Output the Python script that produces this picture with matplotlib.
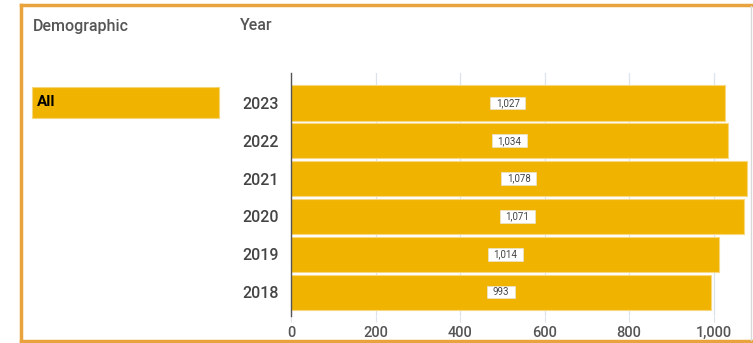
import matplotlib.pyplot as plt
from matplotlib.lines import Line2D
from matplotlib.patches import Rectangle
from matplotlib.ticker import FuncFormatter

plt.rcParams["font.family"] = ["Roboto", "DejaVu Sans"]

years = ["2018", "2019", "2020", "2021", "2022", "2023"]
counts = [993, 1014, 1071, 1078, 1034, 1027]
demographics = ["All"]
x_ticks = [0, 200, 400, 600, 800, 1000]

W, H = 753, 343
gold = "#F0B400"
frame_orange = "#E8A33D"
text_gray = "#555555"

fig = plt.figure(figsize=(W / 100, H / 100), dpi=100)

# background layer in pixel coordinates for the frame and the slicer panel
bg = fig.add_axes([0, 0, 1, 1])
bg.set_xlim(0, W)
bg.set_ylim(H, 0)
bg.axis("off")

bg.add_line(Line2D([21, 752], [5, 5], color=frame_orange, lw=2.5))
bg.add_line(Line2D([21, 21], [5, 341], color=frame_orange, lw=2.5))
bg.add_line(Line2D([21, 752], [341, 341], color=frame_orange, lw=2.5))
bg.add_line(Line2D([751, 751], [6, 340], color="#d8d8d8", lw=1))

bg.text(33, 26, "Demographic", fontsize=11.5, color=text_gray, fontweight="medium",
        ha="left", va="center")
bg.text(240, 26, "Year", fontsize=11.5, color=text_gray, fontweight="medium",
        ha="left", va="center")

for i, name in enumerate(demographics):
    top = 87 + i * 34
    bg.add_patch(Rectangle((32, top), 187, 31, facecolor=gold, edgecolor="#f5d57a", lw=0.8))
    bg.text(37, top + 15.5, name, fontsize=11, color="black", fontweight="semibold",
            ha="left", va="center")

# bar chart area
left_px, right_px = 291, 749.5
top_px, bottom_px = 73, 316
ax = fig.add_axes([left_px / W, 1 - bottom_px / H,
                   (right_px - left_px) / W, (bottom_px - top_px) / H])
ax.patch.set_alpha(0)

ypos = list(range(len(years)))
ax.barh(ypos, counts, height=0.93, color=gold, edgecolor="#f7d77f", linewidth=0.8, zorder=2)

ax.set_xlim(0, 1085)
ax.set_ylim(-0.63, 5.79)
ax.set_yticks(ypos)
ax.set_yticklabels(years)
ax.set_xticks(x_ticks)
ax.xaxis.set_major_formatter(FuncFormatter(lambda v, p: f"{int(v):,}"))

ax.tick_params(axis="y", length=0, pad=9, labelsize=11.5, labelcolor="#444444")
ax.tick_params(axis="x", length=4, color="#dde3ea", pad=3, labelsize=10.5, labelcolor=text_gray)
for lbl in ax.get_yticklabels() + ax.get_xticklabels():
    lbl.set_fontweight("medium")

ax.grid(axis="x", color="#dde3ea", linewidth=0.9, zorder=0)
ax.set_axisbelow(True)
for side in ["top", "right", "bottom"]:
    ax.spines[side].set_visible(False)
ax.spines["left"].set_color("#555555")
ax.spines["left"].set_linewidth(1.0)

# white value tags centred on each bar, sized to their text
tags = [ax.text(v / 2, y, f"{v:,}", fontsize=7, color="#444444", ha="center", va="center",
                zorder=4) for y, v in zip(ypos, counts)]
fig.canvas.draw()
px_x = 1085 / (right_px - left_px)
px_y = (5.79 + 0.63) / (bottom_px - top_px)
for t, y, v in zip(tags, ypos, counts):
    w = (t.get_window_extent().width + 11) * px_x
    h = 12.6 * px_y
    ax.add_patch(Rectangle((v / 2 - w / 2, y - h / 2), w, h, facecolor="white",
                           edgecolor="#e6e6e6", linewidth=0.4, zorder=3))

fig.savefig("out.png", dpi=100)
